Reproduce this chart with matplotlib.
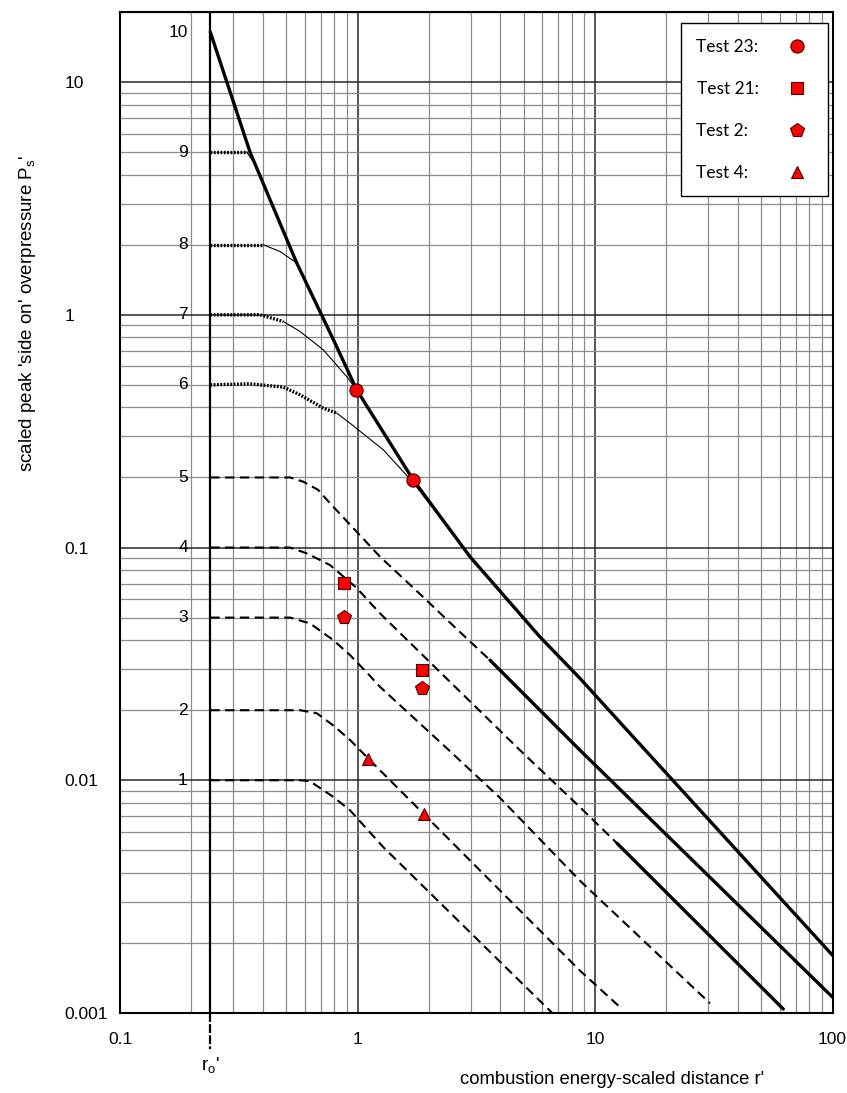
import matplotlib
matplotlib.use("Agg")
import matplotlib.pyplot as plt
from matplotlib import font_manager, transforms
from matplotlib.font_manager import FontProperties
from matplotlib.ticker import LogLocator, NullFormatter, FixedLocator, FixedFormatter

installed = {f.name for f in font_manager.fontManager.ttflist}


def fam(*names):
    return [n for n in names if n in installed] + ["DejaVu Sans"]


SANS = fam("Liberation Sans")
LEGF = fam("Lato", "Open Sans")

# ---------------- data ----------------
r0 = 0.24  # charge radius r0'

class_labels = ["1", "2", "3", "4", "5", "6", "7", "8", "9", "10"]
class_p0 = [0.01, 0.02, 0.05, 0.1, 0.2, 0.5, 1.0, 2.0, 5.0, 16.4]

# class 10 (thick solid, envelope of classes 6-10)
r10 = [0.24, 0.353, 0.555, 0.804, 0.992, 1.718, 2.976, 5.866, 8.647, 14.04, 100.0]
p10 = [16.4, 4.99, 1.669, 0.756, 0.476, 0.195, 0.0913, 0.0413, 0.0274, 0.0159, 0.00177]

# classes 6-9: hatched start, thin continuation
r9_h = [0.24, 0.342]
p9_h = [5.0, 5.0]
r9_t = [0.342, 0.372]
p9_t = [5.0, 4.4]

r8_h = [0.24, 0.401]
p8_h = [2.0, 2.0]
r8_t = [0.401, 0.472, 0.555]
p8_t = [2.0, 1.87, 1.669]

r7_h = [0.24, 0.389, 0.487]
p7_h = [1.0, 1.0, 0.936]
r7_t = [0.487, 0.573, 0.718, 0.900, 0.992]
p7_t = [0.936, 0.848, 0.707, 0.543, 0.476]

r6_h = [0.24, 0.353, 0.487, 0.573, 0.718, 0.818]
p6_h = [0.5, 0.505, 0.489, 0.453, 0.397, 0.378]
r6_t = [0.818, 0.930, 1.284, 1.718, 2.976]
p6_t = [0.378, 0.342, 0.263, 0.190, 0.0913]

# classes 1-5: dashed, (4 and 5 turn into thick solid far away)
r5_d = [0.24, 0.520, 0.590, 0.682, 0.766, 0.976, 1.244, 1.833, 2.702, 3.614]
p5_d = [0.2, 0.2, 0.192, 0.177, 0.155, 0.119, 0.0913, 0.0631, 0.0433, 0.0328]
r5_s = [3.614, 8.647, 100.0]
p5_s = [0.0328, 0.01346, 0.00117]

r4_d = [0.24, 0.520, 0.611, 0.766, 0.992, 1.244, 4.833, 8.647, 12.38]
p4_d = [0.1, 0.1, 0.0944, 0.0841, 0.067, 0.0521, 0.01346, 0.00766, 0.00536]
r4_s = [12.38, 62.05]
p4_s = [0.00536, 0.00104]

r3_d = [0.24, 0.520, 0.631, 0.791, 0.930, 1.093, 1.244, 2.382, 3.981, 8.647, 30.5]
p3_d = [0.05, 0.05, 0.0472, 0.040, 0.0345, 0.0291, 0.0252, 0.0137, 0.0084, 0.0037, 0.0011]

r2_d = [0.24, 0.573, 0.674, 0.791, 0.930, 1.110, 1.893, 8.647, 12.74]
p2_d = [0.02, 0.02, 0.0194, 0.0172, 0.0149, 0.0124, 0.00719, 0.00152, 0.00106]

r1_d = [0.24, 0.573, 0.631, 0.791, 0.930, 1.284, 6.675]
p1_d = [0.01, 0.01, 0.0099, 0.00848, 0.00743, 0.00516, 0.00099]

# test points
test23_r = [0.99, 1.72]
test23_p = [0.476, 0.195]
test21_r = [0.88, 1.86]
test21_p = [0.0706, 0.0299]
test2_r = [0.88, 1.86]
test2_p = [0.0504, 0.0248]
test4_r = [1.11, 1.90]
test4_p = [0.0124, 0.00718]

x_ticks = [0.1, 1, 10, 100]
x_ticklabels = ["0.1", "1", "10", "100"]
y_ticks = [0.001, 0.01, 0.1, 1, 10]
y_ticklabels = ["0.001", "0.01", "0.1", "1", "10"]

# ---------------- figure ----------------
W, H = 847, 1093
fig = plt.figure(figsize=(W / 100, H / 100), dpi=100)
ax = fig.add_axes([120 / W, 1 - 1013 / H, 712.5 / W, 1001 / H])
ax.set_xscale("log")
ax.set_yscale("log")
ax.set_xlim(0.1, 100)
ax.set_ylim(0.001, 20)

# grid
ax.xaxis.set_minor_locator(LogLocator(base=10, subs=range(2, 10)))
ax.yaxis.set_minor_locator(LogLocator(base=10, subs=range(2, 10)))
ax.xaxis.set_minor_formatter(NullFormatter())
ax.yaxis.set_minor_formatter(NullFormatter())
ax.grid(which="minor", color="0.55", lw=0.9, zorder=0)
ax.grid(which="major", color="0.15", lw=1.1, zorder=0)
ax.set_axisbelow(True)

ax.xaxis.set_major_locator(FixedLocator(x_ticks))
ax.xaxis.set_major_formatter(FixedFormatter(x_ticklabels))
ax.yaxis.set_major_locator(FixedLocator(y_ticks))
ax.yaxis.set_major_formatter(FixedFormatter(y_ticklabels))
ax.tick_params(which="both", length=0)
ax.tick_params(axis="x", pad=14)
ax.tick_params(axis="y", pad=40)
for t in ax.get_xticklabels() + ax.get_yticklabels():
    t.set_fontfamily(SANS)
    t.set_fontsize(12.5)
for t in ax.get_yticklabels():
    t.set_horizontalalignment("left")

for s in ax.spines.values():
    s.set_linewidth(1.5)
    s.set_color("black")

# r0' vertical line
ax.axvline(r0, color="black", lw=1.6, zorder=2)
bt = transforms.blended_transform_factory(ax.transData, ax.transAxes)
ax.plot([r0, r0], [0, -0.036], transform=bt, color="black", lw=1.6,
        ls=(0, (4, 1)), clip_on=False)
ft = transforms.blended_transform_factory(ax.transData, fig.transFigure)
ax.text(r0, 1 - 1066 / H, "r$_\\mathregular{o}$'", transform=ft, ha="center",
        va="center", fontsize=13.5, family=SANS)

# styles
hatch_kw = dict(color="black", lw=2.4, ls=(0, (0.55, 0.45)), zorder=3,
                solid_capstyle="butt", dash_capstyle="butt")
thin_kw = dict(color="black", lw=0.8, zorder=3)
dash_kw = dict(color="black", lw=1.5, ls=(0, (4.5, 2.6)), zorder=3)
thick_kw = dict(color="black", lw=2.4, zorder=4, solid_capstyle="round")

ax.plot(r10, p10, **thick_kw)
for rh, ph, rt, pt in [(r9_h, p9_h, r9_t, p9_t), (r8_h, p8_h, r8_t, p8_t),
                       (r7_h, p7_h, r7_t, p7_t), (r6_h, p6_h, r6_t, p6_t)]:
    ax.plot(rh, ph, **hatch_kw)
    ax.plot(rt, pt, **thin_kw)

for rd, pd in [(r5_d, p5_d), (r4_d, p4_d), (r3_d, p3_d), (r2_d, p2_d), (r1_d, p1_d)]:
    ax.plot(rd, pd, **dash_kw)
ax.plot(r5_s, p5_s, **thick_kw)
ax.plot(r4_s, p4_s, **thick_kw)

# class labels
for lab, p in zip(class_labels, class_p0):
    ax.text(0.193, p, lab, ha="right", va="center", fontsize=12.5,
            family=SANS, zorder=6)

# test points
mk = dict(ls="none", mfc="#ff0000", mec="#400000", mew=0.8, zorder=7)
ax.plot(test23_r, test23_p, marker="o", ms=9.5, label="Test 23:", **mk)
ax.plot(test21_r, test21_p, marker="s", ms=8.5, label="Test 21:", **mk)
ax.plot(test2_r, test2_p, marker="p", ms=10, label="Test 2:\u2007", **mk)
ax.plot(test4_r, test4_p, marker="^", ms=8, label="Test 4:\u2007", **mk)

leg = ax.legend(loc="upper right", bbox_to_anchor=(708 / 712.5, 990 / 1001),
                borderaxespad=0, markerfirst=False, fancybox=False,
                edgecolor="black", framealpha=1,
                prop=FontProperties(family=LEGF, size=12.5),
                handlelength=1.8, handletextpad=1.3, labelspacing=1.5,
                borderpad=0.9)
leg.get_frame().set_linewidth(1.0)
leg.set_zorder(10)

# axis labels
fig.text(28 / W, 1 - 313 / H, "scaled peak 'side on' overpressure P$_\\mathregular{s}$'",
         rotation=90, ha="center", va="center", fontsize=13.5, family=SANS)
fig.text(612 / W, 1 - 1079 / H, "combustion energy-scaled distance r'",
         ha="center", va="center", fontsize=13.3, family=SANS)

fig.savefig("out.png", dpi=100)
